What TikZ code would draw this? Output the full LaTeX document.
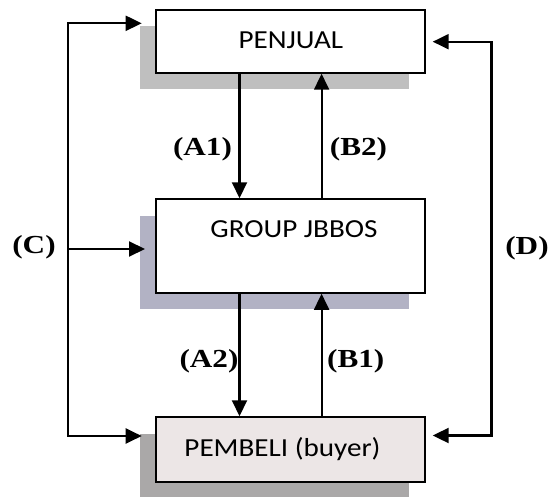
\documentclass[tikz,border=0pt]{standalone}
\usepackage{fontspec}
\setmainfont{Carlito}
\newfontfamily\labfont{Liberation Serif}
\usepackage{graphicx}
\usetikzlibrary{arrows.meta}
\definecolor{shadowgray}{RGB}{191,191,191}
\definecolor{shadowtwo}{RGB}{178,178,196}
\definecolor{shadowthree}{RGB}{170,168,168}
\definecolor{pbfill}{RGB}{236,230,230}
\begin{document}
\begin{tikzpicture}[x=1pt,y=-1pt,
  box/.style={draw=black, line width=2.1pt, fill=white, minimum width=268.5pt, inner sep=0pt},
  shadowbox/.style={draw=none, minimum width=268.5pt, inner sep=0pt},
  boxtext/.style={inner sep=0pt, anchor=base, font=\fontsize{26}{30}\selectfont},
  lab/.style={inner sep=0pt, anchor=base, font=\labfont\bfseries\fontsize{26}{30}\selectfont},
  arr/.style={line width=2.1pt, -{Triangle[length=16pt,width=15pt]}}
]
\useasboundingbox (0,0) rectangle (548,497);
\fill[white] (0,0) rectangle (548,497);
\begin{scope}
\clip (0,0) rectangle (548,497);
% shadows
\node[shadowbox, fill=shadowgray, minimum height=62.7pt] (pjs) at (274.4,57.65) {};
\node[shadowbox, fill=shadowtwo, minimum height=93.4pt] (gs) at (274.4,262.3) {};
\node[shadowbox, fill=shadowthree, minimum height=64.4pt] (pbs) at (274.4,465.8) {};
\end{scope}
% boxes
\node[box, minimum height=62.7pt] (pj) at (290.4,41.35) {};
\node[box, minimum height=93.4pt] (g) at (290.4,246) {};
\node[box, fill=pbfill, minimum height=64.4pt] (pb) at (290.4,449.5) {};
\node[boxtext] (pjt) at (290.8,48.3) {\scalebox{1.12}[1]{PENJUAL}};
\node[boxtext] (gt) at (294,237.7) {\scalebox{1.12}[1]{GROUP JBBOS}};
\node[boxtext] (pbt) at (282.5,456.7) {\scalebox{1.12}[1]{PEMBELI (buyer)}};
% vertical arrows
\draw[arr] ([xshift=-50.9pt]pj.south) -- ([xshift=-50.9pt]g.north);
\draw[arr] ([xshift=31.2pt]g.north) -- ([xshift=31.2pt]pj.south);
\draw[arr] ([xshift=-50.9pt]g.south) -- ([xshift=-50.9pt]pb.north);
\draw[arr] ([xshift=31.2pt]pb.north) -- ([xshift=31.2pt]g.south);
% left loop
\coordinate (cl) at (68,249);
\coordinate (tpj) at (141.7,23.3);
\coordinate (tg) at (145,249);
\coordinate (tpb) at (141.7,436);
\draw[arr] (cl) |- (tpj);
\draw[arr] (cl) |- (tpb);
\draw[arr] (cl) -- (tg);
% right loop
\coordinate (cr) at (491.5,249);
\coordinate (rpj) at (432.7,41.7);
\coordinate (rpb) at (432.7,435.5);
\draw[arr] (cr) |- (rpj);
\draw[arr] (cr) |- (rpb);
% labels
\node[lab] (la1) at (202.5,155.3) {\scalebox{1.2}[1]{(A1)}};
\node[lab] (lb2) at (358.5,155.3) {\scalebox{1.2}[1]{(B2)}};
\node[lab] (la2) at (209,367) {\scalebox{1.2}[1]{(A2)}};
\node[lab] (lb1) at (355.7,367) {\scalebox{1.2}[1]{(B1)}};
\node[lab] (lc) at (34,253.5) {\scalebox{1.2}[1]{(C)}};
\node[lab] (ld) at (527,254) {\scalebox{1.2}[1]{(D)}};
\end{tikzpicture}
\end{document}
